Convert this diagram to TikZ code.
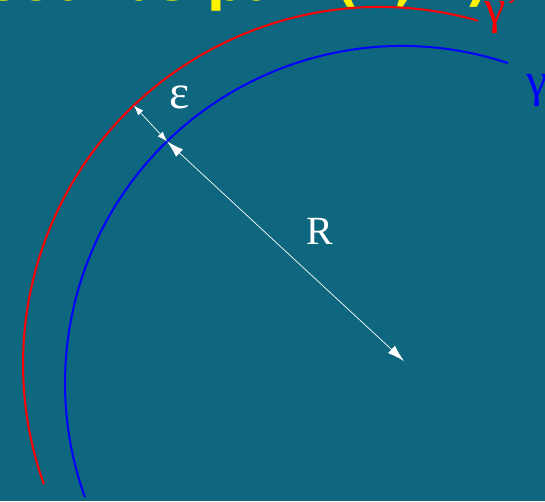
\documentclass[tikz,border=0pt]{standalone}
\usepackage{fontspec}
\setmainfont{Liberation Serif}
\setsansfont{DejaVu Sans}
\usetikzlibrary{arrows.meta,calc}
\definecolor{slidebg}{RGB}{14,102,127}

\begin{document}
\begin{tikzpicture}[x=1pt, y=1pt,
    curve/.style={line width=2pt},
    dim/.style={white, line width=0.7pt},
    bigtip/.style={{Latex[length=17pt,width=10pt]}-{Latex[length=17pt,width=10pt]}},
    smalltip/.style={{Latex[length=10pt,width=7pt]}-{Latex[length=10pt,width=7pt]}},
    lab/.style={inner sep=0pt, anchor=base}]
    % Background
    \fill[slidebg] (0,0) rectangle (545,501);
    \useasboundingbox (0,0) rectangle (545,501);
    \begin{scope}
    \clip (0,0) rectangle (545,501);
    % Title (cut by the top edge)
    \node[lab, anchor=base west, text=yellow, font=\sffamily\bfseries\fontsize{52}{60}\selectfont] (title) at (-20,500) {Courbe par\hspace{30pt}(E, L)};
    % Centres of the two curves
    \coordinate (O) at (402,118);
    \coordinate (O2) at (380,137);
    % Curves
    \draw[curve, blue] ($(O)+(71.7:337)$) arc[start angle=71.7, end angle=199.8, radius=337];
    \draw[curve, red] ($(O2)+(74.1:357)$) arc[start angle=74.1, end angle=199.7, radius=357];
    % Points for the dimensions
    \coordinate (P) at ($(O)+(134.2:337)$);
    \coordinate (Q) at ($(O2)+(133.6:357)$);
    \coordinate (Rtip) at (404,140);
    \draw[dim, smalltip] (Q) -- (P);
    \draw[dim, bigtip] (P) -- (Rtip);
    % Labels
    \node[lab, text=white, font=\fontsize{48}{52}\selectfont] (eps) at (180,392) {ε};
    \node[lab, text=white, font=\fontsize{40}{44}\selectfont] (R) at (320,257) {R};
    \node[lab, anchor=base west, text=red, font=\fontsize{48}{52}\selectfont] (gred) at (484,477) {γ’};
    \node[lab, anchor=base west, text=blue, font=\fontsize{48}{52}\selectfont] (gblue) at (526,404) {γ};
    \end{scope}
\end{tikzpicture}
\end{document}
